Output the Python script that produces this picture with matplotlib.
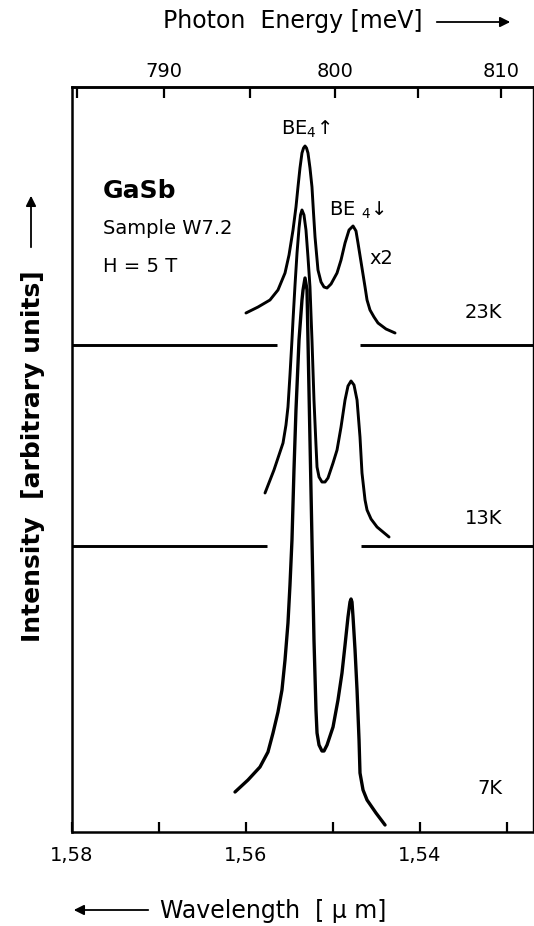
import matplotlib
matplotlib.use("Agg")
import matplotlib.pyplot as plt
from matplotlib.ticker import FixedLocator, FuncFormatter

# ---------------- data ----------------
# wavelength in micrometres, intensity in arbitrary units (relative to each baseline)
wl_23K = [1.56000, 1.55861, 1.55724, 1.55632, 1.55551, 1.55505, 1.55459, 1.55425, 1.55402,
          1.55379, 1.55356, 1.55338, 1.55321, 1.55304, 1.55287, 1.55264, 1.55241, 1.55224,
          1.55206, 1.55172, 1.55137, 1.55103, 1.55068, 1.55022, 1.54953, 1.54907, 1.54861,
          1.54815, 1.54769, 1.54735, 1.54712, 1.54677, 1.54631, 1.54608, 1.54574, 1.54528,
          1.54482, 1.54390, 1.54286]
int_23K = [0.32, 0.38, 0.45, 0.55, 0.72, 0.90, 1.15, 1.38, 1.58,
           1.77, 1.92, 1.97, 1.99, 1.97, 1.92, 1.77, 1.58, 1.33,
           1.08, 0.75, 0.63, 0.58, 0.57, 0.61, 0.72, 0.85, 1.02,
           1.15, 1.19, 1.14, 1.02, 0.83, 0.58, 0.45, 0.35, 0.28,
           0.22, 0.16, 0.12]

wl_13K = [1.55781, 1.55678, 1.55574, 1.55540, 1.55517, 1.55494, 1.55471, 1.55459, 1.55436,
          1.55413, 1.55390, 1.55373, 1.55356, 1.55333, 1.55310, 1.55287, 1.55264, 1.55252,
          1.55241, 1.55218, 1.55195, 1.55183, 1.55160, 1.55126, 1.55091, 1.55057, 1.54999,
          1.54953, 1.54907, 1.54861, 1.54827, 1.54792, 1.54758, 1.54723, 1.54689, 1.54666,
          1.54631, 1.54608, 1.54562, 1.54493, 1.54424, 1.54355]
int_13K = [0.53, 0.76, 1.03, 1.21, 1.39, 1.71, 2.06, 2.26, 2.61,
           2.93, 3.18, 3.31, 3.36, 3.31, 3.16, 2.89, 2.59, 2.31,
           2.06, 1.46, 1.01, 0.79, 0.69, 0.64, 0.64, 0.68, 0.83,
           0.96, 1.19, 1.46, 1.60, 1.65, 1.61, 1.46, 1.09, 0.73,
           0.46, 0.36, 0.27, 0.19, 0.14, 0.09]

wl_7K = [1.56126, 1.55977, 1.55839, 1.55747, 1.55689, 1.55632, 1.55586, 1.55551, 1.55517,
         1.55494, 1.55471, 1.55448, 1.55425, 1.55390, 1.55356, 1.55344, 1.55321, 1.55298,
         1.55287, 1.55264, 1.55241, 1.55218, 1.55195, 1.55183, 1.55160, 1.55126, 1.55103,
         1.55068, 1.54999, 1.54942, 1.54896, 1.54861, 1.54827, 1.54804, 1.54792, 1.54781,
         1.54769, 1.54746, 1.54723, 1.54700, 1.54689, 1.54654, 1.54608, 1.54505, 1.54401]
int_7K = [0.40, 0.52, 0.65, 0.80, 0.99, 1.20, 1.42, 1.72, 2.09,
          2.47, 2.92, 3.62, 4.22, 4.92, 5.32, 5.42, 5.54, 5.42,
          4.92, 3.92, 2.92, 1.92, 1.22, 0.99, 0.87, 0.81, 0.81,
          0.87, 1.05, 1.32, 1.59, 1.87, 2.15, 2.30, 2.33, 2.30,
          2.15, 1.82, 1.42, 0.92, 0.59, 0.42, 0.32, 0.19, 0.07]

temps = ["23 K", "13 K", "7 K"]
offsets = [4.87, 2.86, 0.0]
# baseline segments (wavelength ranges) drawn for the upper traces
base_left = [(1.580, 1.55643), (1.580, 1.55758)]
base_right = [(1.54689, 1.527), (1.54677, 1.527)]

wl_ticks = [1.58, 1.57, 1.56, 1.55, 1.54, 1.53]
wl_labels = [1.58, 1.56, 1.54]
e_ticks = [785, 790, 795, 800, 805, 810]
e_labels = [790, 800, 810]

# ---------------- figure ----------------
W, H = 534, 926
fig = plt.figure(figsize=(W / 100, H / 100), dpi=100)
plt.rcParams['font.family'] = ['DejaVu Sans']

x0, x1, y0, y1 = 72, 533, 87, 832
ax = fig.add_axes([x0 / W, 1 - y1 / H, (x1 - x0) / W, (y1 - y0) / H])
ax.set_xlim(1.58, 1.527)
ax.set_ylim(0, 7.45)

lw = 2.1
for wl, it, off, lwi in [(wl_23K, int_23K, offsets[0], lw),
                         (wl_13K, int_13K, offsets[1], lw),
                         (wl_7K, int_7K, offsets[2], 2.4)]:
    ax.plot(wl, [v + off for v in it], color='black', lw=lwi,
            solid_joinstyle='round', solid_capstyle='round')

for (l, r), off in zip(base_left, offsets[:2]):
    ax.plot([l, r], [off, off], color='black', lw=lw, solid_capstyle='butt')
for (l, r), off in zip(base_right, offsets[:2]):
    ax.plot([l, r], [off, off], color='black', lw=lw, solid_capstyle='butt')

for s in ax.spines.values():
    s.set_linewidth(1.8)
ax.spines['right'].set_linewidth(1.0)

ax.set_yticks([])
ax.xaxis.set_major_locator(FixedLocator(wl_ticks))
ax.xaxis.set_major_formatter(FuncFormatter(
    lambda v, p: (f"{v:.2f}".replace('.', ',')) if any(abs(v - t) < 1e-6 for t in wl_labels) else ""))
ax.tick_params(axis='x', direction='in', length=7, width=1.6, labelsize=14, pad=10)

sec = ax.secondary_xaxis('top', functions=(lambda l: 1239.84 / l, lambda e: 1239.84 / e))
sec.xaxis.set_major_locator(FixedLocator(e_ticks))
sec.xaxis.set_major_formatter(FuncFormatter(
    lambda v, p: f"{v:.0f}" if any(abs(v - t) < 1e-6 for t in e_labels) else ""))
sec.tick_params(axis='x', direction='in', length=8, width=1.6, labelsize=14, pad=4)
sec.spines['top'].set_linewidth(1.8)

# ---------------- annotations ----------------
def P(px, py):
    return (px / W, 1 - py / H)

fs = 14
ax.text(*P(103, 191), "GaSb", transform=fig.transFigure, fontsize=18, fontweight='bold',
        va='center', ha='left')
ax.text(*P(103, 229), "Sample W7.2", transform=fig.transFigure, fontsize=fs, va='center', ha='left')
ax.text(*P(103, 267), "H = 5 T", transform=fig.transFigure, fontsize=fs, va='center', ha='left')
ax.text(*P(306, 129), "BE$_4$↑", transform=fig.transFigure, fontsize=fs, va='center', ha='center')
ax.text(*P(357, 210), "BE $_4$↓", transform=fig.transFigure, fontsize=fs, va='center', ha='center')
ax.text(*P(381, 258), "x2", transform=fig.transFigure, fontsize=fs, va='center', ha='center')
for t, py in zip(temps, [313, 518, 788]):
    ax.text(*P(502, py), t.replace(" ", ""), transform=fig.transFigure, fontsize=fs,
            va='center', ha='right')

# axis titles with arrows
fig.text(*P(163, 21), "Photon  Energy [meV]", fontsize=17, va='center', ha='left')
fig.add_artist(matplotlib.patches.FancyArrowPatch(P(434, 22), P(513, 22), transform=fig.transFigure,
               arrowstyle='-|>,head_length=6,head_width=3', color='black', lw=1.3))
fig.text(*P(160, 911), "Wavelength  [ μ m]", fontsize=17, va='center', ha='left')
fig.add_artist(matplotlib.patches.FancyArrowPatch(P(151, 910), P(71, 910), transform=fig.transFigure,
               arrowstyle='-|>,head_length=6,head_width=3', color='black', lw=1.3))
fig.text(*P(33, 642), "Intensity  [arbitrary units]", fontsize=18, va='bottom', ha='center',
         rotation=90, fontweight='bold')
fig.add_artist(matplotlib.patches.FancyArrowPatch(P(31, 250), P(31, 193), transform=fig.transFigure,
               arrowstyle='-|>,head_length=6,head_width=3', color='black', lw=1.3))

fig.savefig("out.png", dpi=100)
